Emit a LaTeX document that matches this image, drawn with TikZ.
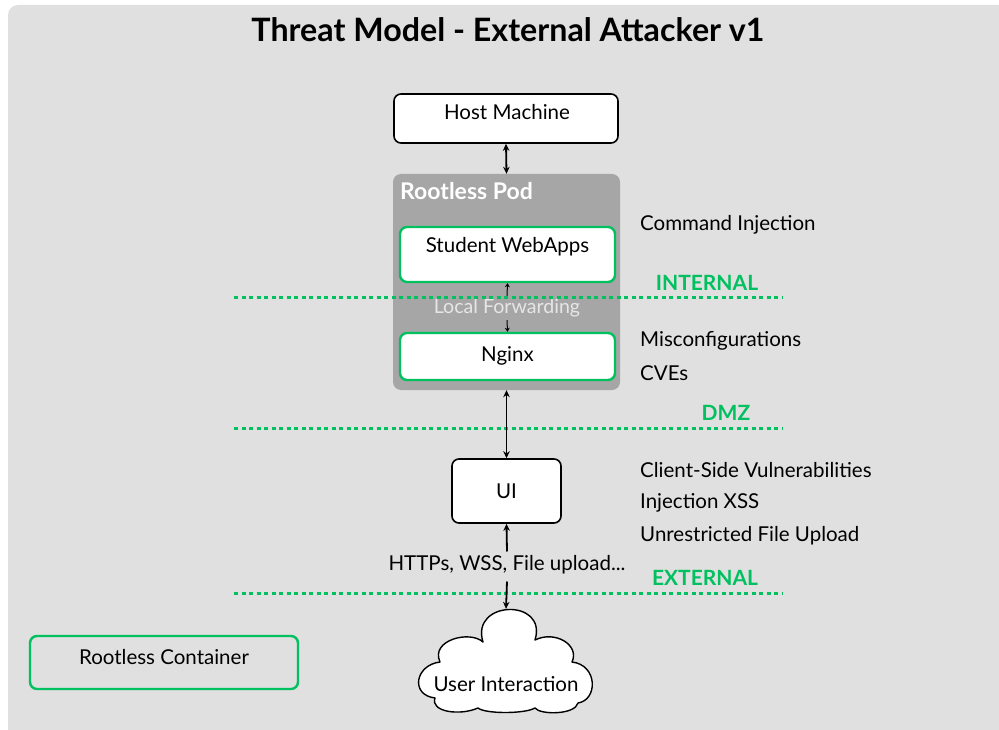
\documentclass[tikz,border=0pt]{standalone}
\usepackage{fontspec}
\setmainfont{Lato}
\usetikzlibrary{arrows.meta}
\definecolor{bggray}{HTML}{E0E0E0}
\definecolor{podgray}{HTML}{A6A6A6}
\definecolor{zonegreen}{HTML}{00C060}
\definecolor{fwdtext}{HTML}{E6E6E6}
\tikzset{
  px/.style={x=1pt,y=-1pt},
  body/.style={font=\fontsize{20.5}{24}\selectfont,inner sep=0pt},
  plainbox/.style={draw=black,line width=1.6pt,fill=white,rounded corners=7pt,inner sep=0pt},
  greenbox/.style={draw=zonegreen,line width=2.4pt,rounded corners=7pt,inner sep=0pt},
  lbl/.style={body,anchor=west},
  zone/.style={draw=zonegreen,line width=3pt,dash pattern=on 4pt off 3.5pt},
  zonelbl/.style={text=zonegreen,font=\fontsize{21}{24}\selectfont\bfseries,inner sep=0pt},
  link/.style={line width=1.8pt,-{Stealth[length=7pt,width=6.5pt]}},
  dlink/.style={line width=1.8pt,{Stealth[length=7pt,width=6.5pt]}-{Stealth[length=7pt,width=6.5pt]}},
  tinylink/.style={line width=1pt,-{Stealth[length=4pt,width=5pt]}},
  cloudline/.style={draw=black,line width=1.4pt,fill=white,line join=round},
}
\begin{document}
\begin{tikzpicture}[px]
\useasboundingbox (0,0) rectangle (999,730);
% canvas
\fill[white] (0,0) rectangle (999,730);
\fill[bggray,rounded corners=10pt] (8,5) rectangle (1010,740);

\node[font=\fontsize{32.2}{38}\selectfont\bfseries] (title) at (508,30) {Threat Model - External Attacker v1};

% host
\node[plainbox,minimum width=224pt,minimum height=49pt] (host) at (506,118.5) {};
\node[body] (hosttxt) at (507,112) {Host Machine};

% pod container
\node[fill=podgray,rounded corners=8pt,minimum width=227pt,minimum height=216pt,inner sep=0pt] (pod) at (506.5,282) {};
\node[text=white,font=\fontsize{23}{26}\selectfont\bfseries,anchor=west,inner sep=0pt] (podtitle) at (400,191) {Rootless Pod};

\node[greenbox,fill=white,minimum width=215pt,minimum height=55pt] (web) at (507.5,254.5) {};
\node[body] (webtxt) at (507.5,247) {Student WebApps};
\node[greenbox,fill=white,minimum width=215pt,minimum height=47pt] (nginx) at (507.5,356.5) {};
\node[body] (nginxtxt) at (507.5,356) {Nginx};
\node[text=fwdtext,font=\fontsize{19.6}{23}\selectfont,inner sep=0pt] (fwd) at (507,308) {Local Forwarding};

% zone boundaries
\coordinate (intA) at (234,297); \coordinate (intB) at (782,297);
\coordinate (dmzA) at (234,428); \coordinate (dmzB) at (782,428);
\coordinate (extA) at (234,593); \coordinate (extB) at (782,593);
\draw[zone] (intA) -- (intB);
\draw[zone] (dmzA) -- (dmzB);
\draw[zone] (extA) -- (extB);
\node[zonelbl] (intl) at (707,283) {INTERNAL};
\node[zonelbl] (dmzl) at (726,413) {DMZ};
\node[zonelbl] (extl) at (705,578) {EXTERNAL};

% UI
\node[plainbox,minimum width=109pt,minimum height=64pt] (ui) at (506.5,491) {};
\node[body] (uitxt) at (506.5,491) {UI};
\node[body] (proto) at (507,565) {HTTPs, WSS, File upload...};

% user cloud, drawn puff by puff
\node[minimum width=172pt,minimum height=102pt,inner sep=0pt] (user) at (506,660) {};
\path[cloudline]
  (483,642) .. controls (470,600) and (548,598) .. (535,640)
            .. controls (555,630) and (580,645) .. (572,662)
            .. controls (598,665) and (598,700) .. (578,703)
            .. controls (575,715) and (540,715) .. (535,708)
            .. controls (525,714) and (485,714) .. (478,708)
            .. controls (460,716) and (430,712) .. (435,698)
            .. controls (410,695) and (415,665) .. (440,662)
            .. controls (430,640) and (470,630) .. cycle;
\node[body] (usertxt) at (506,684) {User Interaction};

% legend
\node[greenbox,minimum width=268pt,minimum height=53pt] (legend) at (164,662.5) {};
\node[body] (legendtxt) at (164,657) {Rootless Container};

% threats per zone
\node[lbl] (t1) at (640,225) {Command Injection};
\node[lbl] (t2) at (640,341) {Misconfigurations};
\node[lbl] (t3) at (640,373) {CVEs};
\node[lbl] (t4) at (640,470) {Client-Side Vulnerabilities};
\node[lbl] (t5) at (640,503) {Injection XSS};
\node[lbl] (t6) at (640,536) {Unrestricted File Upload};

% connectors
\draw[dlink] (host.south) -- (pod.north);
\draw[tinylink] (fwd.north) ++(0,-3) -- (web.south);
\draw[tinylink] (fwd.south) ++(0,3) -- (nginx.north);
\draw[dlink] (pod.south) -- (ui.north);
\draw[link] (proto.north) ++(0,-4) -- (ui.south);
\draw[link] (proto.south) ++(0,7) -- (user.north);
\end{tikzpicture}
\end{document}
